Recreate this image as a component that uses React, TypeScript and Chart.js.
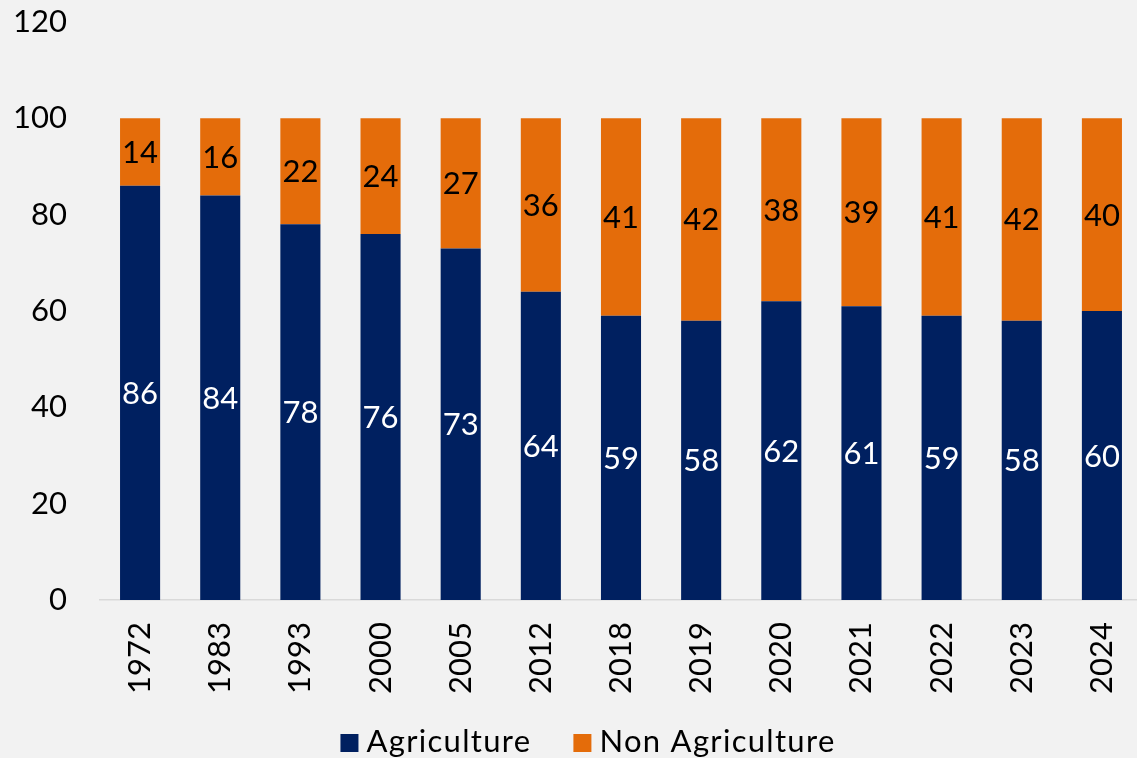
import React, { useEffect, useRef } from "react";
import { Chart, registerables } from "chart.js";

Chart.register(...registerables);

const years = ["1972", "1983", "1993", "2000", "2005", "2012", "2018", "2019", "2020", "2021", "2022", "2023", "2024"];
const agriculture = [86, 84, 78, 76, 73, 64, 59, 58, 62, 61, 59, 58, 60];
const nonAgriculture = [14, 16, 22, 24, 27, 36, 41, 42, 38, 39, 41, 42, 40];
const yTicks = [0, 20, 40, 60, 80, 100, 120];
const seriesNames = ["Agriculture", "Non Agriculture"];
const seriesColors = ["#002060", "#E46C0A"];
const labelColors = ["#ffffff", "#000000"];

const FONT = "Lato, 'Noto Sans', sans-serif";
const FS = 31;

const W = 1160;
const H = 758;

const valueLabels = {
  id: "valueLabels",
  afterDatasetsDraw(chart: any) {
    const ctx = chart.ctx;
    ctx.save();
    ctx.font = `${FS}px ${FONT}`;
    ctx.textAlign = "center";
    ctx.textBaseline = "middle";
    chart.data.datasets.forEach((ds: any, di: number) => {
      const meta = chart.getDatasetMeta(di);
      meta.data.forEach((el: any, i: number) => {
        const p = el.getProps(["x", "y", "base"], true);
        ctx.fillStyle = labelColors[di];
        ctx.fillText(String(ds.data[i]), p.x, (p.y + p.base) / 2 + 1);
      });
    });
    ctx.restore();
  },
};

const customLegend = {
  id: "customLegend",
  afterDraw(chart: any) {
    const ctx = chart.ctx;
    ctx.save();
    ctx.font = `${FS}px ${FONT}`;
    try {
      (ctx as any).letterSpacing = "1.3px";
    } catch (e) {}
    ctx.textBaseline = "alphabetic";
    ctx.textAlign = "left";
    const box = 18;
    const gapText = 8;
    const gapItem = 42;
    const widths = seriesNames.map((n) => box + gapText + ctx.measureText(n).width);
    const total = widths.reduce((a, b) => a + b, 0) + gapItem * (widths.length - 1);
    let x = 588 - total / 2;
    const baseline = 752;
    seriesNames.forEach((n, i) => {
      ctx.fillStyle = seriesColors[i];
      ctx.fillRect(x, baseline - box, box, box);
      ctx.fillStyle = "#000000";
      ctx.fillText(n, x + box + gapText, baseline);
      x += widths[i] + gapItem;
    });
    ctx.restore();
  },
};

export default function App() {
  const ref = useRef<HTMLCanvasElement | null>(null);
  useEffect(() => {
    if (!ref.current) return;
    const chart = new Chart(ref.current, {
      type: "bar",
      data: {
        labels: years,
        datasets: [
          {
            label: seriesNames[0],
            data: agriculture,
            backgroundColor: seriesColors[0],
            barPercentage: 0.5,
            categoryPercentage: 1,
          },
          {
            label: seriesNames[1],
            data: nonAgriculture,
            backgroundColor: seriesColors[1],
            barPercentage: 0.5,
            categoryPercentage: 1,
          },
        ],
      },
      options: {
        responsive: false,
        animation: false,
        layout: { padding: { top: 22, right: W - 1142, bottom: 58, left: 0 } },
        plugins: { legend: { display: false }, tooltip: { enabled: false } },
        scales: {
          x: {
            stacked: true,
            grid: { display: false, drawTicks: false },
            border: { display: true, color: "#d9d9d9", width: 1.5 },
            ticks: {
              color: "#000000",
              font: { family: FONT, size: FS },
              minRotation: 90,
              maxRotation: 90,
              padding: 22,
              autoSkip: false,
            },
            afterFit: (s: any) => {
              s.height = 100;
              s.paddingLeft = 0;
              s.paddingRight = 0;
              s.paddingTop = 0;
              s.paddingBottom = 0;
            },
          },
          y: {
            stacked: true,
            min: 0,
            max: 120,
            grid: { display: false, drawTicks: false },
            border: { display: false },
            afterBuildTicks: (s: any) => {
              s.ticks = yTicks.map((v) => ({ value: v }));
            },
            ticks: {
              color: "#000000",
              font: { family: FONT, size: FS },
              padding: 33,
            },
            afterFit: (s: any) => {
              s.width = 100;
              s.paddingTop = 0;
              s.paddingBottom = 0;
              s.paddingLeft = 0;
              s.paddingRight = 0;
            },
          },
        },
      },
      plugins: [valueLabels, customLegend],
    });
    return () => chart.destroy();
  }, []);
  return (
    <div
      style={{
        position: "fixed",
        left: 0,
        top: 0,
        width: 1137,
        height: 758,
        overflow: "hidden",
        background: "#f2f2f2",
      }}
    >
      <canvas ref={ref} width={W} height={H} style={{ width: W, height: H, display: "block" }} />
    </div>
  );
}
